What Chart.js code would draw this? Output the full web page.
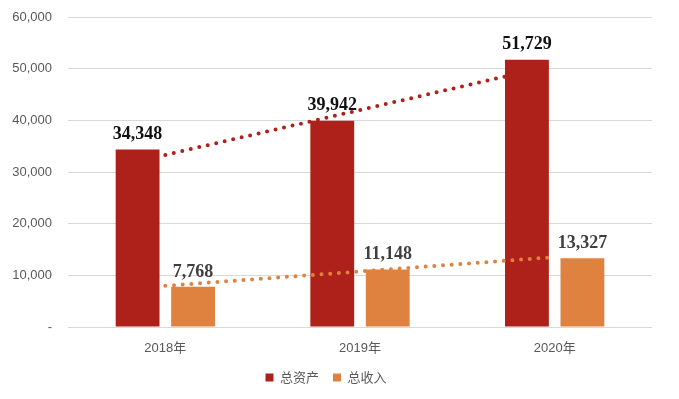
<!DOCTYPE html>
<html>
<head>
<meta charset="utf-8">
<script src="https://cdn.jsdelivr.net/npm/chart.js@4"></script>
<style>
  html,body{margin:0;padding:0;background:#fff;}
  #wrap{width:679px;height:399px;}
</style>
</head>
<body>
<div id="wrap"><canvas id="c" width="679" height="399"></canvas></div>
<script>
// data
const years=['2018年','2019年','2020年'];
const assets=[34348,39942,51729];        // 总资产
const revenue=[7768,11148,13327];       // 总收入
const assetsTrend=[33300,42000,50700];  // dotted trend (总资产)
const revenueTrend=[7970,10750,13530];  // dotted trend (总收入)
const yTicks=[0,10000,20000,30000,40000,50000,60000];

const RED='#AE201A',ORANGE='#E0823F';
const fmt=v=>v.toLocaleString('en-US');

// value labels above bars
const barLabels={
  id:'barLabels',
  afterDatasetsDraw(chart){
    const ctx=chart.ctx;
    ctx.save();
    ctx.font='bold 18px "Liberation Serif", "Times New Roman", serif';
    ctx.textAlign='center';ctx.textBaseline='bottom';
    chart.data.datasets.forEach((ds,i)=>{
      if(ds.type!=='bar')return;
      const meta=chart.getDatasetMeta(i);
      ctx.fillStyle=ds.labelColor;
      meta.data.forEach((el,j)=>{
        ctx.fillText(fmt(ds.data[j]),el.x,el.y-6);
      });
    });
    ctx.restore();
  }
};

new Chart(document.getElementById('c'),{
  data:{labels:years,datasets:[
    {type:'bar',label:'总资产',data:assets,backgroundColor:RED,labelColor:'#111',order:2,
     categoryPercentage:0.57,barPercentage:0.79},
    {type:'bar',label:'总收入',data:revenue,backgroundColor:ORANGE,labelColor:'#404040',order:2,
     categoryPercentage:0.57,barPercentage:0.79},
    {type:'line',label:'trend1',data:assetsTrend,borderColor:RED,borderWidth:4,borderDash:[0,8.7],
     borderCapStyle:'round',pointRadius:0,fill:false,order:0},
    {type:'line',label:'trend2',data:revenueTrend,borderColor:ORANGE,borderWidth:4,borderDash:[0,8.7],
     borderCapStyle:'round',pointRadius:0,fill:false,order:0}
  ]},
  options:{
    responsive:false,animation:false,
    layout:{padding:{top:0,right:27,left:0,bottom:5}},
    plugins:{
      legend:{position:'bottom',
        labels:{filter:it=>!it.text.startsWith('trend'),boxWidth:8,boxHeight:8,padding:14,
          color:'#595959',font:{size:13,family:'"Noto Sans CJK SC", sans-serif'}}},
      tooltip:{enabled:false}
    },
    scales:{
      x:{grid:{display:false},border:{display:false},
         ticks:{color:'#595959',padding:6,font:{size:13,family:'"Liberation Sans", "Noto Sans CJK SC", sans-serif'}},
         afterFit(s){s.height=30;}},
      y:{min:0,max:60000,
         afterBuildTicks(s){s.ticks=yTicks.map(v=>({value:v}));},
         afterFit(s){s.width=68;s.paddingTop=17;},
         grid:{color:'#D9D9D9',lineWidth:1,drawTicks:false},border:{display:false},
         ticks:{color:'#595959',padding:16,font:{size:13,family:'"Liberation Sans", sans-serif'},
           callback:v=>v===0?'-':fmt(v)}}
    }
  },
  plugins:[barLabels]
});
</script>
</body>
</html>
